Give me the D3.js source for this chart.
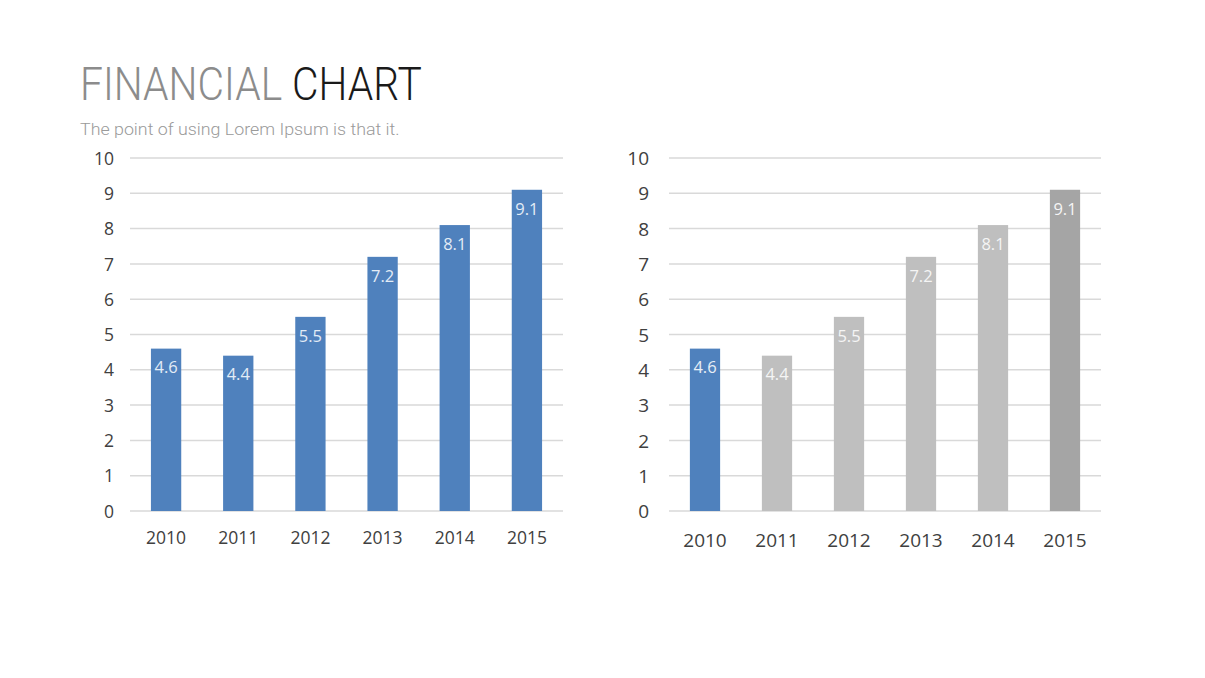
<!DOCTYPE html>
<html><head><meta charset="utf-8">
<script src="https://cdn.jsdelivr.net/npm/d3@7"></script>
<style>html,body{margin:0;padding:0;background:#fff;}</style>
</head><body>
<svg id="c" width="1205" height="678"></svg>
<script>
const categories = ["2010","2011","2012","2013","2014","2015"];
const values = [4.6, 4.4, 5.5, 7.2, 8.1, 9.1];
const yTicks = [0,1,2,3,4,5,6,7,8,9,10];
const leftColors = ["#4f81bd","#4f81bd","#4f81bd","#4f81bd","#4f81bd","#4f81bd"];
const rightColors = ["#4f81bd","#bfbfbf","#bfbfbf","#bfbfbf","#bfbfbf","#a5a5a5"];
const titleParts = ["FINANCIAL", "CHART"];
const subtitle = "The point of using Lorem Ipsum is that it.";

const svg = d3.select("#c");

// Title
const t = svg.append("text").attr("x",80).attr("y",100)
  .style("font-family","Roboto").style("font-weight",300).style("font-size","46px");
t.append("tspan").attr("fill","#8c8c8c").text(titleParts[0] + " ");
t.append("tspan").attr("fill","#1a1a1a").text(titleParts[1]);
function fitWidth(sel, x, target){
  const w = sel.node().getComputedTextLength();
  const s = target / w;
  sel.attr("x",0).attr("transform",`translate(${x},0) scale(${s},1)`);
}
fitWidth(t, 80, 342);

const st = svg.append("text").attr("x",80).attr("y",135)
  .style("font-family","Roboto").style("font-weight",300).style("font-size","17px")
  .attr("fill","#9a9a9a").text(subtitle);
fitWidth(st, 80, 320);

function drawChart(x0, x1, colors, labelColors, tickFs, xLabelY, yLabelX){
  const x = d3.scaleBand().domain(categories).range([x0, x1]).paddingInner(0.58).paddingOuter(0.29);
  const y = d3.scaleLinear().domain([0,10]).range([511, 158]);
  const g = svg.append("g");
  // gridlines
  g.selectAll("line.grid").data(yTicks).enter().append("line")
    .attr("x1", x0).attr("x2", x1)
    .attr("y1", d=>y(d)).attr("y2", d=>y(d))
    .attr("stroke","#d9d9d9").attr("stroke-width",1.5);
  // y axis labels
  const yAxis = d3.axisLeft(y).tickValues(yTicks).tickSize(0).tickPadding(0);
  const ya = g.append("g").attr("transform",`translate(${yLabelX},0)`).call(yAxis);
  ya.select(".domain").remove();
  ya.selectAll("text").style("font-family","Open Sans").style("font-size",tickFs+"px").attr("fill","#404040").attr("dy","0.35em");
  // x axis labels
  const xAxis = d3.axisBottom(x).tickSize(0).tickPadding(0);
  const xa = g.append("g").attr("transform",`translate(0,${xLabelY})`).call(xAxis);
  xa.select(".domain").remove();
  xa.selectAll("text").style("font-family","Open Sans").style("font-size",tickFs+"px").attr("fill","#404040").attr("dy","0.35em");
  // bars
  g.selectAll("rect.bar").data(values).enter().append("rect")
    .attr("x",(d,i)=>x(categories[i]))
    .attr("width", x.bandwidth())
    .attr("y", d=>y(d))
    .attr("height", d=>y(0)-y(d))
    .attr("fill",(d,i)=>colors[i]);
  // value labels
  g.selectAll("text.val").data(values).enter().append("text")
    .attr("x",(d,i)=>x(categories[i])+x.bandwidth()/2)
    .attr("y", d=>y(d)+19)
    .attr("dy","0.35em")
    .attr("text-anchor","middle")
    .style("font-family","Open Sans").style("font-size","16.5px")
    .attr("fill",(d,i)=>labelColors[i])
    .text(d=>d.toFixed(1));
}

drawChart(130, 563, leftColors, ["#e3ecf6","#e3ecf6","#e3ecf6","#e3ecf6","#e3ecf6","#e3ecf6"], 17.5, 538, 114);
drawChart(669, 1101, rightColors, ["#e8eef6","#f5f5f5","#f5f5f5","#f5f5f5","#f5f5f5","#f5f5f5"], 19, 540, 649);
</script>
</body></html>
